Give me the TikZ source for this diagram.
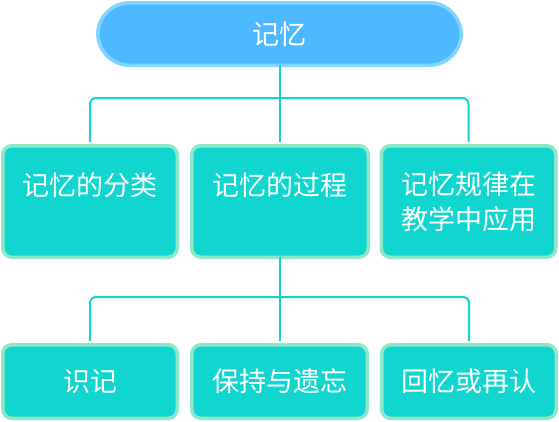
\documentclass[tikz,border=0pt]{standalone}
\usepackage{fontspec}
\newfontfamily\cjk{Noto Sans CJK SC}
\definecolor{rootfill}{HTML}{4DB8FF}
\definecolor{rootedge}{HTML}{82D4FF}
\definecolor{boxfill}{HTML}{11D6CF}
\definecolor{boxedge}{HTML}{8EE8C8}
\definecolor{wire}{HTML}{12D5CE}
\tikzset{
  rootbox/.style={draw=rootedge, fill=rootfill, line width=3.5pt, rounded corners=32pt,
    minimum width=363.5pt, minimum height=62.5pt, inner sep=0pt, outer sep=0pt,
    text=white, font=\cjk\fontsize{27}{35}\selectfont},
  topicbox/.style={draw=boxedge, fill=boxfill, line width=3.5pt, rounded corners=9pt,
    minimum width=174.5pt, minimum height=111.5pt, inner sep=0pt, outer sep=0pt,
    align=center, text=white, font=\cjk\fontsize{27}{35}\selectfont},
  leafbox/.style={topicbox, minimum height=73.5pt},
  conn/.style={draw=wire, line width=2pt, rounded corners=6pt},
}
\begin{document}
\begin{tikzpicture}[x=1pt, y=-1pt]
  \useasboundingbox (0,0) rectangle (559,421);

  % root
  \node[rootbox] (root) at (279.5,34) {记忆};

  % second level (single-line titles sit in the upper part of the box)
  \node[topicbox] (kind) at (90,201.5) {记忆的分类\\\mbox{}};
  \node[topicbox, minimum width=176.5pt] (proc) at (280,201.5) {记忆的过程\\\mbox{}};
  \node[topicbox] (use)  at (468.5,201.5) {记忆规律在\\教学中应用};

  % third level
  \node[leafbox] (enc) at (90,381.5) {识记};
  \node[leafbox, minimum width=175.5pt] (keep) at (279.5,381.5) {保持与遗忘};
  \node[leafbox] (rec) at (469,381.5) {回忆或再认};

  % bus lines
  \coordinate (bus1) at (279.5,98);
  \coordinate (bus2) at (279.5,297);

  \draw[conn, shorten >=4pt] (root.south) -- (root.south |- proc.north);
  \draw[conn, shorten <=4pt, shorten >=4pt] (kind.north) |- (bus1) -| (use.north);

  \draw[conn, shorten >=4pt] (proc.south) -- (proc.south |- keep.north);
  \draw[conn, shorten <=4pt, shorten >=4pt] (enc.north) |- (bus2) -| (rec.north);
\end{tikzpicture}
\end{document}
